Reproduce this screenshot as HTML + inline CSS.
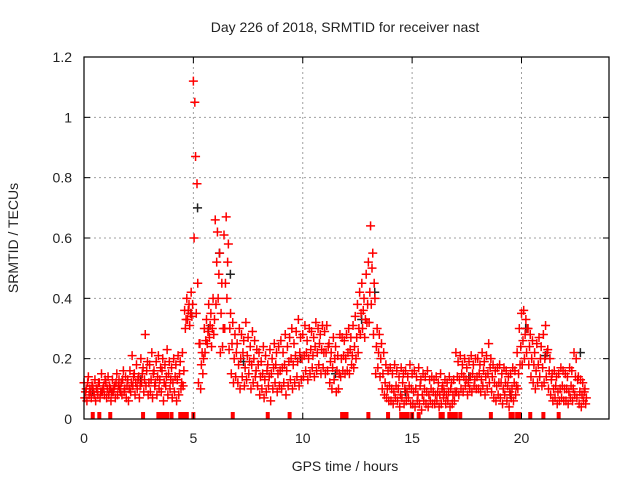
<!DOCTYPE html>
<html><head><meta charset="utf-8"><style>
body{margin:0;background:#fff}
svg{display:block;font-family:"Liberation Sans",sans-serif}
</style></head><body>
<svg id="chart" width="640" height="480" viewBox="0 0 640 480">
<rect width="640" height="480" fill="#fff"/>
<text x="345" y="32" font-size="14" text-anchor="middle" fill="#222">Day 226 of 2018, SRMTID for receiver nast</text>
<text x="345" y="471" font-size="14" text-anchor="middle" fill="#222">GPS time / hours</text>
<text transform="translate(18,238) rotate(-90)" font-size="14" text-anchor="middle" fill="#222">SRMTID / TECUs</text>
<g id="grid"></g><g id="marks"></g><g id="axes"></g>
</svg>
<script>
const yTicks=[0,0.2,0.4,0.6,0.8,1,1.2];
const yTickLabels=["0","0.2","0.4","0.6","0.8","1","1.2"];
const xTicks=[0,5,10,15,20];
const xTickLabels=["0","5","10","15","20"];
const stepHours=0.1;
const seriesA=[.12,.10,.14,.09,.11,.13,.10,.12,.15,.11, .12,.14,.10,.13,.11,.15,.13,.12,.16,.14, .13,.16,.21,.15,.18,.14,.20,.17,.28,.19, .18,.22,.16,.19,.21,.17,.20,.18,.23,.19, .17,.20,.18,.21,.19,.22,.36,.40,.38,.42, 1.12,.87,.45,.25,.22,.30,.33,.38,.35,.40, .66,.62,.55,.45,.61,.67,.58,.35,.32,.28, .25,.30,.28,.26,.32,.27,.24,.29,.26,.23, .22,.19,.24,.21,.18,.23,.20,.25,.22,.24, .26,.22,.28,.24,.27,.30,.25,.29,.33,.27, .28,.31,.26,.30,.29,.27,.32,.30,.28,.31, .29,.31,.25,.22,.27,.24,.21,.28,.27,.26, .28,.30,.27,.31,.34,.38,.42,.45,.40,.48, .52,.64,.55,.40,.30,.28,.25,.22,.18,.16, .17,.15,.18,.16,.14,.17,.15,.16,.14,.18, .15,.16,.14,.17,.13,.15,.14,.16,.13,.14, .13,.14,.12,.15,.11,.13,.12,.14,.12,.13, .22,.19,.21,.18,.20,.17,.19,.21,.18,.20, .20,.18,.22,.19,.21,.25,.20,.18,.16,.17, .18,.15,.17,.16,.14,.15,.17,.16,.22,.30, .35,.36,.33,.30,.28,.26,.22,.25,.27,.24, .28,.31,.23,.20,.15,.16,.14,.15,.17,.16, .15,.14,.17,.16,.22,.20,.14,.13,.12,.10];
const seriesB=[.07,.06,.08,.07,.09,.06,.08,.07,.09,.08, .07,.08,.06,.09,.07,.08,.10,.08,.09,.07, .06,.09,.11,.08,.10,.07,.12,.09,.11,.08, .09,.07,.11,.08,.10,.09,.06,.11,.08,.10, .07,.09,.06,.08,.10,.11,.30,.33,.31,.34, .60,.35,.12,.10,.15,.22,.25,.27,.24,.28, .38,.40,.22,.24,.30,.40,.23,.15,.12,.14, .12,.10,.14,.11,.13,.15,.10,.12,.14,.11, .08,.10,.07,.09,.11,.06,.10,.12,.09,.11, .10,.12,.08,.11,.13,.10,.12,.14,.11,.13, .14,.16,.13,.15,.17,.14,.16,.18,.15,.17, .15,.16,.12,.10,.13,.09,.10,.14,.16,.15, .16,.15,.18,.17,.20,.22,.28,.30,.27,.32, .32,.38,.28,.15,.17,.14,.10,.08,.07,.06, .06,.05,.07,.06,.04,.07,.05,.06,.07,.05, .05,.04,.06,.05,.03,.06,.05,.04,.06,.05, .05,.06,.04,.05,.07,.05,.06,.04,.05,.06, .09,.08,.10,.09,.11,.08,.10,.09,.11,.10, .10,.09,.11,.08,.10,.12,.09,.07,.06,.08, .07,.05,.08,.06,.04,.07,.06,.08,.10,.18, .18,.20,.22,.18,.14,.12,.10,.12,.14,.11, .12,.14,.10,.08,.06,.07,.05,.06,.07,.06, .06,.05,.07,.06,.08,.07,.05,.04,.06,.05];
const seriesC=[.09,.12,.10,.11,.08,.10,.12,.09,.10,.13, .10,.11,.09,.10,.12,.11,.09,.13,.10,.11, .10,.12,.14,.12,.13,.11,.15,.13,.16,.12, .13,.15,.12,.14,.13,.16,.12,.14,.15,.13, .12,.14,.13,.15,.12,.16,.33,.36,.35,.38, 1.05,.78,.25,.18,.20,.26,.29,.31,.30,.33, .52,.48,.35,.30,.45,.52,.30,.25,.20,.22, .18,.20,.22,.17,.21,.19,.18,.20,.16,.18, .14,.15,.13,.16,.14,.15,.17,.18,.15,.16, .17,.18,.16,.19,.20,.18,.21,.19,.22,.20, .21,.22,.20,.23,.21,.24,.22,.25,.23,.22, .22,.24,.19,.17,.20,.16,.15,.20,.21,.20, .22,.23,.21,.24,.27,.30,.35,.36,.33,.38, .42,.50,.45,.24,.22,.20,.15,.12,.10,.11, .10,.09,.11,.10,.08,.12,.10,.09,.11,.10, .09,.10,.08,.11,.08,.10,.09,.08,.10,.09, .08,.09,.08,.10,.09,.08,.09,.10,.08,.09, .14,.13,.15,.14,.13,.12,.14,.15,.13,.14, .15,.13,.16,.14,.15,.17,.14,.12,.11,.12, .12,.10,.12,.11,.09,.10,.12,.11,.15,.24, .26,.28,.30,.24,.20,.18,.16,.18,.20,.17, .20,.22,.16,.13,.10,.11,.09,.10,.11,.10, .10,.09,.11,.10,.14,.13,.09,.08,.09,.07];
const blackTimes=[0.3,2.5,4.8,5.1,5.6,6.1,6.6,7.2,9.8,11.4,12.6,13.2,14.6,17.5,19.4,20.1,21.0,22.6];
const blackVals=[0.09,0.13,0.35,0.70,0.30,0.55,0.48,0.19,0.20,0.15,0.33,0.42,0.09,0.14,0.08,0.30,0.21,0.22];
const zeroTimes=[0.4,0.7,1.2,2.7,3.4,3.5,3.6,3.7,3.8,4.0,4.4,4.5,4.6,4.7,5.0,6.8,8.4,9.4,11.8,11.9,12.0,13.0,13.9,14.5,14.6,14.7,14.8,15.0,15.3,16.3,16.4,16.7,16.8,16.9,17.0,17.2,18.6,19.5,19.6,19.8,19.9,20.4,21.0,21.7];

const L=84,R=609,T=57,B=419;
const xs=h=>L+h/24*(R-L);
const ys=v=>B-v/1.2*(B-T);
const NS="http://www.w3.org/2000/svg";
function mk(tag,attrs,parent){const e=document.createElementNS(NS,tag);for(const k in attrs)e.setAttribute(k,attrs[k]);parent.appendChild(e);return e;}
const grid=document.getElementById('grid'),marks=document.getElementById('marks'),axes=document.getElementById('axes');
yTicks.forEach((v,i)=>{
  if(v>0&&v<1.2){const g=mk('line',{x1:L,x2:R,y1:ys(v),y2:ys(v),stroke:'#a0a0a0','stroke-dasharray':'2,3'},grid);
  
  }
  const t=mk('text',{x:L-12,y:ys(v)+5,'font-size':14,'text-anchor':'end',fill:'#222'},axes);t.textContent=yTickLabels[i];
  
  
  mk('line',{x1:L,x2:L+6,y1:ys(v),y2:ys(v),stroke:'#000'},axes);
  mk('line',{x1:R,x2:R-6,y1:ys(v),y2:ys(v),stroke:'#000'},axes);
});
xTicks.forEach((h,i)=>{
  if(h>0){const g=mk('line',{x1:xs(h),x2:xs(h),y1:T,y2:B,stroke:'#a0a0a0','stroke-dasharray':'2,3'},grid);
  
  }
  const t=mk('text',{x:xs(h),y:443,'font-size':14,'text-anchor':'middle',fill:'#222'},axes);t.textContent=xTickLabels[i];
  
  
  mk('line',{x1:xs(h),x2:xs(h),y1:B,y2:B-6,stroke:'#000'},axes);
  mk('line',{x1:xs(h),x2:xs(h),y1:T,y2:T+6,stroke:'#000'},axes);
});
const frame=mk('rect',{x:L,y:T,width:R-L,height:B-T,fill:'none',stroke:'#000','stroke-width':1.2},axes);


function plus(x,y,col){const p=mk('path',{d:`M${x-4.5},${y}h9M${x},${y-4.5}v9`,stroke:col,'stroke-width':1.5,fill:'none'},marks);return p;}
blackTimes.forEach((h,i)=>{const p=plus(xs(h)+2,ys(blackVals[i]),'#222');
  
  });
[seriesA,seriesB,seriesC].forEach((arr,si)=>arr.forEach((v,i)=>{
  const h=i*stepHours+si*0.033;
  const p=plus(xs(h),ys(v),'#f00');
  
  
}));
zeroTimes.forEach(h=>{const r=mk('rect',{x:xs(h)-2,y:B-7,width:4,height:7,fill:'#f00'},marks);
  
  });
</script>
</body></html>
